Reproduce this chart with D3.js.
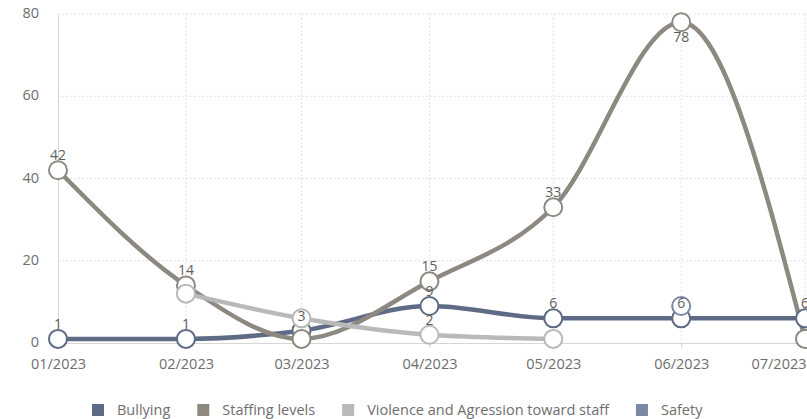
<!DOCTYPE html>
<html>
<head>
<meta charset="utf-8">
<script src="https://cdn.jsdelivr.net/npm/d3@7"></script>
<style>
  body { margin: 0; background: #fff; }
  svg { font-family: "Open Sans", sans-serif; }
</style>
</head>
<body>
<div id="chart"></div>
<script>
// Data
var months = ["2023-01", "2023-02", "2023-03", "2023-04", "2023-05", "2023-06", "2023-07"];
var yTicks = [0, 20, 40, 60, 80];
var seriesNames = ["Bullying", "Staffing levels", "Violence and Agression toward staff", "Safety"];
var bullying = [1, 1, 3, 9, 6, 6, 6];
var staffing = [42, 14, 1, 15, 33, 78, 1];
var violence = [null, 12, 6, 2, 1, null, null];
var safety = [null, null, null, null, null, 9, null];
var colors = ["#5d6b84", "#8d8980", "#b9b9b9", "#7b89a4"];
// labels the reference does not show (series index, month index)
var hiddenLabels = [[2, 1], [1, 2], [2, 2], [2, 4], [3, 5], [1, 6]];

var width = 807, height = 419;
var margin = {top: 14, right: 2, bottom: 76, left: 58};

var parseMonth = d3.timeParse("%Y-%m");
var dates = months.map(parseMonth);

var x = d3.scaleTime()
    .domain(d3.extent(dates))
    .range([margin.left, 805]);

var y = d3.scaleLinear()
    .domain([0, 80])
    .range([343, margin.top]);

var svg = d3.select("#chart").append("svg")
    .attr("width", width)
    .attr("height", height);

// grid
svg.append("g").selectAll("line")
    .data(yTicks.slice(1))
    .join("line")
    .attr("x1", margin.left).attr("x2", width)
    .attr("y1", function(d) { return y(d); })
    .attr("y2", function(d) { return y(d); })
    .attr("stroke", "#e2e2e2")
    .attr("stroke-dasharray", "2,2");

svg.append("g").selectAll("line")
    .data(dates.slice(1))
    .join("line")
    .attr("x1", function(d) { return x(d); })
    .attr("x2", function(d) { return x(d); })
    .attr("y1", y(80)).attr("y2", y(0))
    .attr("stroke", "#e2e2e2")
    .attr("stroke-dasharray", "2,2");

// axes
var yAxis = svg.append("g")
    .attr("transform", "translate(" + margin.left + ",0)")
    .call(d3.axisLeft(y).tickValues(yTicks).tickSize(0).tickPadding(19));

var xAxis = svg.append("g")
    .attr("transform", "translate(0," + y(0) + ")")
    .call(d3.axisBottom(x).tickValues(dates).tickFormat(d3.timeFormat("%m/%Y")).tickSize(5).tickPadding(11));

[xAxis, yAxis].forEach(function(a) {
  a.select(".domain").attr("stroke", "#d6d6d6");
  a.selectAll(".tick line").attr("stroke", "#d6d6d6");
  a.selectAll("text").attr("fill", "#6e6e6e").style("font-size", "14.5px")
    .style("font-family", "'Open Sans', sans-serif");
});
yAxis.selectAll("text").attr("dy", "0.25em");

// keep the last month label inside the picture
xAxis.selectAll(".tick text").filter(function(d, i, n) { return i === n.length - 1; })
    .attr("text-anchor", "end")
    .attr("x", width - 1 - x(dates[dates.length - 1]));

// series
var allSeries = [bullying, staffing, violence, safety];

var line = d3.line()
    .defined(function(d) { return d != null; })
    .x(function(d, i) { return x(dates[i]); })
    .y(function(d) { return y(d); })
    .curve(d3.curveMonotoneX);

var plot = svg.append("g");

allSeries.forEach(function(values, s) {
  plot.append("path")
    .datum(values)
    .attr("fill", "none")
    .attr("stroke", colors[s])
    .attr("stroke-width", 4.5)
    .attr("d", line);
});

allSeries.forEach(function(values, s) {
  plot.append("g").selectAll("circle")
    .data(values.map(function(v, i) { return {v: v, i: i}; }).filter(function(d) { return d.v != null; }))
    .join("circle")
    .attr("cx", function(d) { return x(dates[d.i]); })
    .attr("cy", function(d) { return y(d.v); })
    .attr("r", 9)
    .attr("fill", "#fff")
    .attr("stroke", colors[s])
    .attr("stroke-width", 2);
});

function isHidden(s, i) {
  return hiddenLabels.some(function(h) { return h[0] === s && h[1] === i; });
}

allSeries.forEach(function(values, s) {
  plot.append("g").selectAll("text")
    .data(values.map(function(v, i) { return {v: v, i: i}; })
      .filter(function(d) { return d.v != null && !isHidden(s, d.i); }))
    .join("text")
    .attr("x", function(d) { return x(dates[d.i]); })
    .attr("y", function(d) {
      var py = y(d.v);
      return py - 12 < margin.top + 10 ? py + 20 : py - 10;
    })
    .attr("text-anchor", "middle")
    .attr("fill", "#5e5e5e")
    .style("font-size", "14px")
    .text(function(d) { return d.v; });
});

// legend
var legend = svg.append("g").attr("transform", "translate(0,410)");
var lx = 92;
seriesNames.forEach(function(name, s) {
  legend.append("rect")
    .attr("x", lx).attr("y", -6)
    .attr("width", 12).attr("height", 12)
    .attr("fill", colors[s]);
  var t = legend.append("text")
    .attr("x", lx + 25).attr("y", 5)
    .attr("fill", "#6e6e6e")
    .style("font-size", "14.5px")
    .text(name);
  lx += 25 + t.node().getComputedTextLength() + 27;
});
</script>
</body>
</html>
